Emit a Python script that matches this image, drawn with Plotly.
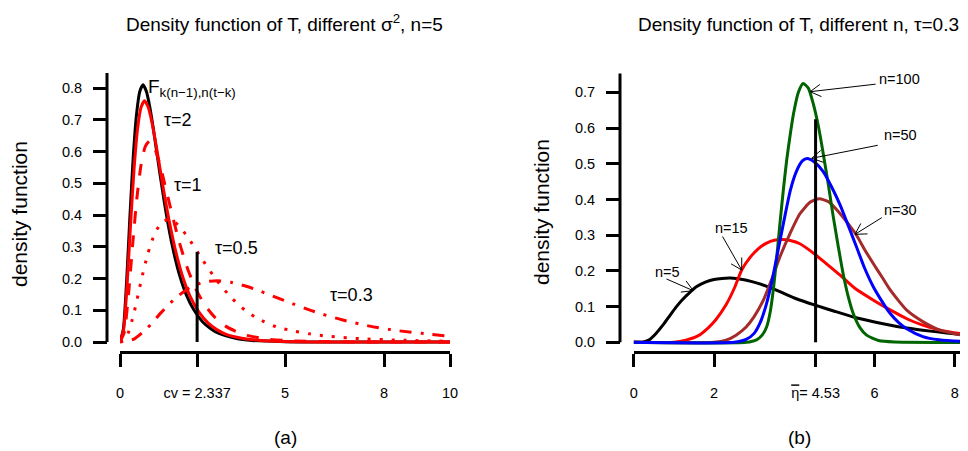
import math
import plotly.graph_objects as go

# the page puts the figure 8 px from the top-left corner of the window
OFF = 8
W, H = 968 - OFF, 451 - OFF

# ---------------- data ----------------
# panel (a): density of T for different tau, n=5
a_black_x = [0, 0.1, 0.2, 0.3, 0.4, 0.5, 0.6, 0.7, 0.8, 0.9, 1.0, 1.2, 1.4, 1.6, 1.8, 2.0, 2.25, 2.5, 2.75, 3.0, 3.5, 4.0, 5.0, 6.0, 8.0, 10.0]
a_black_y = [0, 0.039, 0.190, 0.394, 0.581, 0.716, 0.789, 0.810, 0.789, 0.742, 0.679, 0.537, 0.405, 0.296, 0.212, 0.151, 0.099, 0.064, 0.042, 0.027, 0.012, 0.005, 0.001, 0.0003, 0, 0]

a_tau2_x = [0, 0.107, 0.213, 0.320, 0.426, 0.533, 0.640, 0.746, 0.853, 0.959, 1.066, 1.279, 1.492, 1.706, 1.919, 2.132, 2.399, 2.665, 2.932, 3.198, 3.731, 4.264, 5.33, 6.40, 8.0, 10.0]
a_tau2_y = [0, 0.037, 0.178, 0.370, 0.545, 0.672, 0.740, 0.760, 0.740, 0.696, 0.637, 0.504, 0.380, 0.278, 0.199, 0.142, 0.093, 0.060, 0.039, 0.025, 0.011, 0.005, 0.001, 0, 0, 0]

a_tau1_x = [0, 0.128, 0.256, 0.384, 0.512, 0.640, 0.768, 0.896, 1.024, 1.152, 1.28, 1.536, 1.792, 2.048, 2.304, 2.56, 2.88, 3.2, 3.52, 3.84, 4.48, 5.12, 6.4, 7.68, 10.0]
a_tau1_y = [0, 0.030, 0.148, 0.308, 0.454, 0.559, 0.616, 0.633, 0.616, 0.580, 0.530, 0.420, 0.316, 0.231, 0.166, 0.118, 0.077, 0.050, 0.033, 0.021, 0.009, 0.004, 0.001, 0, 0]

a_tau05_x = [0, 0.21, 0.42, 0.63, 0.84, 1.05, 1.26, 1.47, 1.68, 1.89, 2.1, 2.52, 2.94, 3.36, 3.78, 4.2, 4.73, 5.25, 5.78, 6.3, 7.35, 8.4, 10.0]
a_tau05_y = [0, 0.019, 0.090, 0.188, 0.277, 0.341, 0.376, 0.386, 0.376, 0.353, 0.323, 0.256, 0.193, 0.141, 0.101, 0.072, 0.048, 0.035, 0.025, 0.018, 0.010, 0.006, 0.002]

a_tau03_x = [0, 0.42, 0.84, 1.26, 1.68, 2.1, 2.52, 2.94, 3.36, 3.78, 4.2, 5.04, 5.88, 6.72, 7.56, 8.4, 9.45, 10.0]
a_tau03_y = [0, 0.009, 0.045, 0.094, 0.138, 0.170, 0.188, 0.193, 0.188, 0.177, 0.162, 0.128, 0.096, 0.070, 0.050, 0.036, 0.024, 0.018]

a_cv = 2.337
a_cv_top = 0.284
a_xtick_vals = [0, 2.337, 5, 8, 10]
a_xtick_text = ["0", "cv = 2.337", "5", "8", "10"]
a_ytick_vals = [0, 0.1, 0.2, 0.3, 0.4, 0.5, 0.6, 0.7, 0.8]

# panel (b): density of T for different n, tau=0.3
b_n5_x = [0, 0.24, 0.4, 0.55, 0.74, 0.9, 1.05, 1.2, 1.4, 1.57, 1.8, 2.0, 2.2, 2.4, 2.6, 2.81, 3.1, 3.4, 3.7, 4.05, 4.52, 5.0, 5.5, 6.0, 6.4, 6.8, 7.2, 7.8, 8.4, 9.2, 10]
b_n5_y = [0, 0.001, 0.008, 0.024, 0.050, 0.075, 0.098, 0.118, 0.140, 0.156, 0.169, 0.176, 0.179, 0.180, 0.178, 0.174, 0.165, 0.153, 0.139, 0.122, 0.104, 0.087, 0.070, 0.057, 0.048, 0.040, 0.034, 0.026, 0.019, 0.014, 0.010]

b_n15_x = [0, 1.0, 1.3, 1.6, 1.85, 2.05, 2.3, 2.5, 2.69, 2.9, 3.1, 3.31, 3.5, 3.7, 3.9, 4.14, 4.52, 4.8, 5.14, 5.5, 5.97, 6.4, 6.8, 7.2, 7.63, 8.3, 9, 10]
b_n15_y = [0, 0.0, 0.006, 0.018, 0.040, 0.064, 0.105, 0.150, 0.2025, 0.238, 0.262, 0.278, 0.286, 0.288, 0.285, 0.276, 0.246, 0.220, 0.188, 0.152, 0.118, 0.090, 0.066, 0.048, 0.034, 0.022, 0.014, 0.008]

b_n30_x = [0, 2.0, 2.3, 2.55, 2.8, 3.0, 3.23, 3.45, 3.64, 3.89, 4.14, 4.4, 4.62, 4.85, 5.05, 5.3, 5.55, 5.75, 5.97, 6.2, 6.38, 6.6, 6.8, 7.2, 7.63, 8.0, 8.33, 9, 10]
b_n30_y = [0, 0, 0.006, 0.020, 0.043, 0.072, 0.118, 0.180, 0.239, 0.304, 0.360, 0.393, 0.402, 0.394, 0.372, 0.338, 0.300, 0.260, 0.220, 0.180, 0.148, 0.116, 0.090, 0.058, 0.034, 0.024, 0.018, 0.010, 0.004]

b_n50_x = [0, 2.5, 2.8, 3.0, 3.15, 3.3, 3.45, 3.6, 3.75, 3.9, 4.05, 4.2, 4.32, 4.5, 4.72, 4.93, 5.14, 5.35, 5.55, 5.75, 5.97, 6.2, 6.38, 6.6, 6.8, 7.2, 7.6, 8.3, 10]
b_n50_y = [0, 0, 0.008, 0.025, 0.055, 0.105, 0.175, 0.26, 0.345, 0.425, 0.478, 0.508, 0.515, 0.505, 0.478, 0.435, 0.385, 0.325, 0.267, 0.208, 0.155, 0.112, 0.082, 0.055, 0.038, 0.016, 0.007, 0.002, 0]

b_n100_x = [0, 2.8, 3.06, 3.2, 3.31, 3.4, 3.48, 3.56, 3.64, 3.73, 3.81, 3.89, 3.98, 4.1, 4.22, 4.35, 4.47, 4.6, 4.72, 4.85, 4.97, 5.1, 5.22, 5.35, 5.47, 5.63, 5.8, 6.1, 6.5, 10]
b_n100_y = [0, 0, 0.007, 0.02, 0.043, 0.085, 0.15, 0.235, 0.33, 0.43, 0.51, 0.575, 0.64, 0.70, 0.725, 0.712, 0.669, 0.605, 0.529, 0.44, 0.352, 0.265, 0.19, 0.125, 0.080, 0.042, 0.020, 0.005, 0.001, 0]

b_eta = 4.53
b_eta_top = 0.625
b_xtick_vals = [0, 2, 4.53, 6, 8, 10]
b_xtick_text = ["0", "2", "<span style=\"text-decoration:overline\">\u03b7</span>= 4.53", "6", "8", "10"]
b_ytick_vals = [0, 0.1, 0.2, 0.3, 0.4, 0.5, 0.6, 0.7]

# ---------------- geometry (window pixels) ----------------
FONT = "Liberation Sans, Arial, Helvetica, sans-serif"

def pxx(p):
    return (p - OFF) / W

def pxy(p):
    return 1 - (p - OFF) / H

# panel a
A_X0, A_X1 = 120.0, 450.0          # pixel of x=0 and x=10
A_Y0, A_PPU = 342.0, 317.5         # pixel of y=0, pixels per unit
# panel b
B_X0, B_PPU_X = 633.7, 40.15
B_Y0, B_PPU = 342.3, 357.0
DOM_TOP, DOM_BOT = 70.0, 350.0
XAXIS_PY = 352.0

fig = go.Figure()

def add_line(x, y, color, xa, ya, dash="solid", width=3, spline=True):
    fig.add_trace(go.Scatter(
        x=x, y=y, mode="lines", xaxis=xa, yaxis=ya, hoverinfo="skip", showlegend=False,
        line=dict(color=color, width=width, dash=dash,
                  shape="spline" if spline else "linear", smoothing=0.6)))

# panel (a)
add_line(a_black_x, a_black_y, "black", "x", "y")
add_line(a_tau2_x, a_tau2_y, "#FF0000", "x", "y")
add_line(a_tau1_x, a_tau1_y, "#FF0000", "x", "y", dash="12px,12px")
add_line(a_tau05_x, a_tau05_y, "#FF0000", "x", "y", dash="3px,9px")
add_line(a_tau03_x, a_tau03_y, "#FF0000", "x", "y", dash="3px,9px,12px,9px")
add_line([a_cv, a_cv], [0, a_cv_top], "black", "x", "y", spline=False)

# panel (b)
add_line(b_n5_x, b_n5_y, "black", "x2", "y2")
add_line(b_n15_x, b_n15_y, "#FF0000", "x2", "y2")
add_line(b_n30_x, b_n30_y, "#A52A2A", "x2", "y2")
add_line(b_n100_x, b_n100_y, "#006400", "x2", "y2")
add_line(b_n50_x, b_n50_y, "#0000FF", "x2", "y2")
add_line([b_eta, b_eta], [0, b_eta_top], "black", "x2", "y2", spline=False)

tickfont = dict(family=FONT, size=14.5, color="black")
common_x = dict(anchor="free", position=pxy(XAXIS_PY), showline=True, linewidth=3, linecolor="black",
                ticks="outside", ticklen=13, tickwidth=3, tickcolor="black", tickmode="array",
                ticklabelstandoff=14, tickfont=tickfont, showgrid=False, zeroline=False,
                automargin=False, fixedrange=True)
common_y = dict(anchor="free", showline=False, ticks="outside", ticklen=14, tickwidth=3,
                tickcolor="black", tickmode="array", tickformat=".1f", ticklabelstandoff=8,
                tickfont=tickfont, showgrid=False, zeroline=False, automargin=False, fixedrange=True)

layout = dict(
    width=W, height=H, margin=dict(l=0, r=0, t=0, b=0),
    paper_bgcolor="white", plot_bgcolor="white",
    font=dict(family=FONT, color="black"),
    xaxis=dict(common_x, domain=[pxx(A_X0), pxx(A_X1)], range=[0, 10],
               tickvals=a_xtick_vals, ticktext=a_xtick_text),
    yaxis=dict(common_y, domain=[pxy(DOM_BOT), pxy(DOM_TOP)], position=pxx(107),
               range=[(A_Y0 - DOM_BOT) / A_PPU, (A_Y0 - DOM_TOP) / A_PPU],
               tickvals=a_ytick_vals),
    xaxis2=dict(common_x, domain=[pxx(B_X0), 1.0], range=[0, (968 - B_X0) / B_PPU_X],
                tickvals=b_xtick_vals, ticktext=b_xtick_text),
    yaxis2=dict(common_y, domain=[pxy(DOM_BOT), pxy(DOM_TOP)], position=pxx(620),
                range=[(B_Y0 - DOM_BOT) / B_PPU, (B_Y0 - DOM_TOP) / B_PPU],
                tickvals=b_ytick_vals),
)
fig.update_layout(**layout)

# y axis lines (drawn from first tick to top, as in base R)
fig.add_shape(type="line", xref="paper", yref="y", x0=pxx(107), x1=pxx(107), y0=0, y1=0.847,
              line=dict(color="black", width=3))
fig.add_shape(type="line", xref="paper", yref="y2", x0=pxx(620), x1=pxx(620), y0=0, y1=0.753,
              line=dict(color="black", width=3))

ann = []
def text(x, y, s, size, xref="paper", yref="paper", xanchor="center", angle=0):
    ann.append(dict(x=x, y=y, xref=xref, yref=yref, text=s, showarrow=False,
                    xanchor=xanchor, yanchor="middle", textangle=angle,
                    font=dict(family=FONT, size=size, color="black")))

# titles and axis titles
text(pxx(284), pxy(23), "Density function of T, different \u03c3<sup>2</sup>, n=5", 19)
text(pxx(798), pxy(24), "Density function of T, different n, \u03c4=0.3", 19)
text(pxx(20), pxy(214), "density function", 21, angle=-90)
text(pxx(541), pxy(212), "density function", 21, angle=-90)
text(pxx(285), pxy(437), "(a)", 19)
text(pxx(799), pxy(437), "(b)", 19)

# panel (a) curve labels
text(0.80, 0.80, "F<sub>k(n\u22121),n(t\u2212k)</sub>", 19, "x", "y", "left")
text(1.264, 0.699, "\u03c4=2", 18, "x", "y", "left")
text(1.567, 0.494, "\u03c4=1", 18, "x", "y", "left")
text(2.827, 0.295, "\u03c4=0.5", 18, "x", "y", "left")
text(6.303, 0.148, "\u03c4=0.3", 18, "x", "y", "left")

# panel (b) labels with open-headed arrows
b_labels = [
    # label, label x, label y, tip x, tip y, tail offset (px)
    ("n=100", 6.067, 0.7375, 4.394, 0.702, 67.0, -7.7),
    ("n=50", 6.177, 0.5807, 4.433, 0.5154, 67.6, -13.3),
    ("n=30", 6.177, 0.3706, 5.512, 0.3025, 28.3, -17.6),
    ("n=15", 1.983, 0.3193, 2.690, 0.2025, -20.0, -35.0),
    ("n=5", 0.488, 0.1978, 1.484, 0.1445, -28.3, -12.4),
]
L, ANG = 14.0, math.radians(30)
for lab, lx, ly, tx, ty, dx, dy in b_labels:
    text(lx, ly, lab, 14.5, "x2", "y2", "left")
    n = math.hypot(dx, dy)
    ux, uy = dx / n, dy / n
    segs = [(dx, dy),
            (L * (ux * math.cos(ANG) - uy * math.sin(ANG)), L * (ux * math.sin(ANG) + uy * math.cos(ANG))),
            (L * (ux * math.cos(ANG) + uy * math.sin(ANG)), L * (-ux * math.sin(ANG) + uy * math.cos(ANG)))]
    for ax, ay in segs:
        ann.append(dict(x=tx, y=ty, xref="x2", yref="y2", text="", showarrow=True, arrowhead=0,
                        arrowwidth=1, arrowcolor="black", ax=ax, ay=ay, standoff=0, startstandoff=0))

fig.update_layout(annotations=ann)
fig.write_html("out.html")
